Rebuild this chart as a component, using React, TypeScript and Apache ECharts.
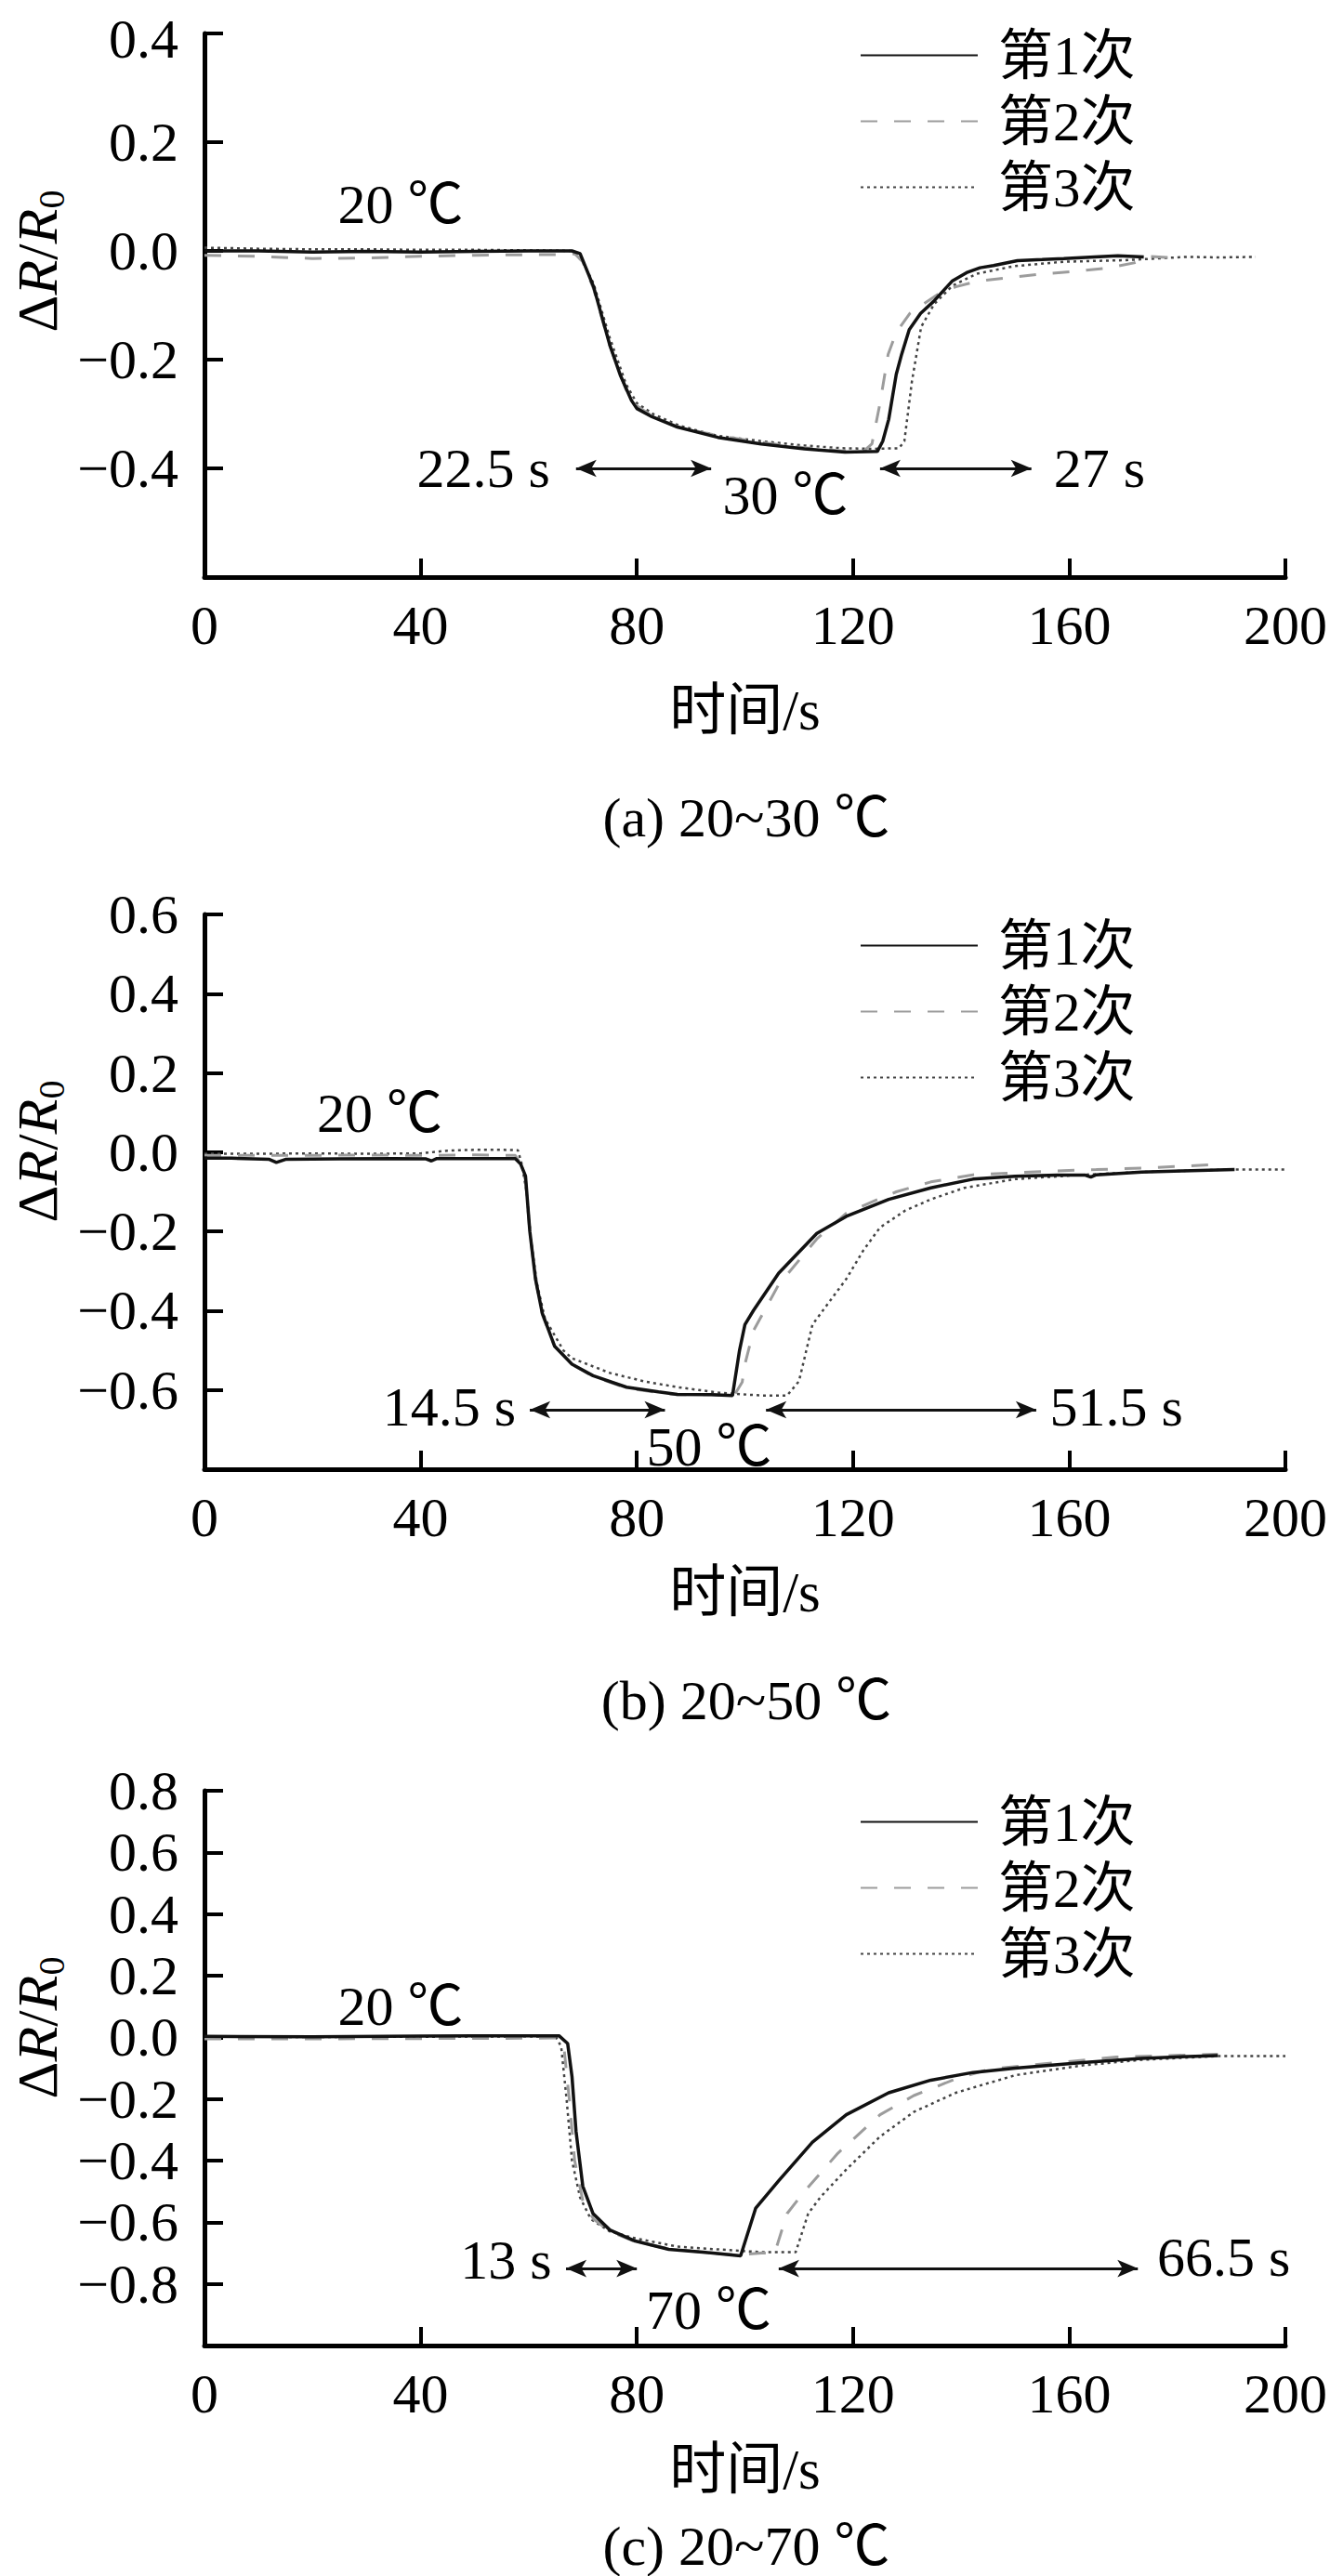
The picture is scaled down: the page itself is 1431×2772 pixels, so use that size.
import React, { useEffect, useRef } from 'react'
import * as echarts from 'echarts'

// ---- data (time in s, ΔR/R0) ----
const seriesNames = ['第1次', '第2次', '第3次']
const xTicks = { min: 0, max: 200, interval: 40 }

// (a) 20~30 ℃
const a1 = [[0, 0.0], [10, 0.0], [20, -0.002], [30, -0.001], [40, -0.002], [50, -0.001], [60, 0.0], [68, 0.0], [69.5, -0.005], [72, -0.066], [75, -0.173], [77, -0.23], [79, -0.275], [80, -0.29], [82.8, -0.305], [87.5, -0.324], [95, -0.343], [103, -0.355], [111, -0.364], [118.5, -0.37], [124.5, -0.369], [125.5, -0.35], [126.6, -0.31], [128, -0.227], [129, -0.19], [130.4, -0.145], [132.5, -0.115], [134.9, -0.093], [138.4, -0.055], [141, -0.04], [143.5, -0.031], [146, -0.027], [150.4, -0.018], [155, -0.016], [159, -0.014], [164.7, -0.011], [169, -0.009], [173.8, -0.011]]
const a2 = [[0, -0.008], [10, -0.01], [20, -0.014], [30, -0.013], [40, -0.01], [50, -0.008], [60, -0.007], [67, -0.007], [68.5, -0.005], [70, -0.02], [72, -0.07], [75, -0.175], [78, -0.255], [80, -0.285], [83, -0.305], [88, -0.325], [95, -0.34], [103, -0.352], [111, -0.362], [118, -0.368], [122, -0.368], [123.5, -0.355], [125, -0.28], [126.5, -0.19], [128, -0.15], [130.5, -0.115], [133, -0.098], [136, -0.078], [139, -0.066], [142.9, -0.056], [149.8, -0.048], [155.5, -0.042], [161.8, -0.037], [167.5, -0.031], [172, -0.022], [175, -0.01], [178, -0.012], [181, -0.01]]
const a3 = [[0, 0.006], [10, 0.004], [20, 0.003], [30, 0.003], [40, 0.002], [50, 0.002], [60, 0.001], [68, 0.0], [70, -0.02], [72, -0.06], [75, -0.16], [78, -0.245], [80, -0.28], [83, -0.3], [88, -0.322], [95, -0.34], [103, -0.35], [111, -0.358], [118, -0.363], [124, -0.364], [128.5, -0.363], [129.5, -0.35], [130.9, -0.24], [132.6, -0.14], [135, -0.098], [138.4, -0.064], [142.9, -0.042], [149.8, -0.028], [159, -0.02], [170.4, -0.017], [181.8, -0.011], [188, -0.012], [194.5, -0.011]]

// (b) 20~50 ℃
const b1 = [[0, -0.015], [5, -0.015], [12, -0.018], [13.3, -0.026], [15, -0.018], [25, -0.017], [35, -0.016], [41, -0.017], [42, -0.022], [43, -0.016], [50, -0.016], [57.5, -0.016], [58.5, -0.03], [59.4, -0.06], [60.2, -0.2], [61.25, -0.32], [62.5, -0.406], [64.8, -0.49], [68, -0.535], [71.9, -0.564], [78.1, -0.593], [84, -0.605], [87.5, -0.611], [93.75, -0.612], [97.7, -0.614], [99, -0.5], [100, -0.435], [101.6, -0.399], [106.25, -0.305], [113.3, -0.205], [118.75, -0.162], [126.6, -0.119], [134.4, -0.09], [142.2, -0.068], [150, -0.061], [157.8, -0.058], [163, -0.058], [164, -0.063], [165, -0.057], [173.4, -0.05], [181, -0.047], [190.6, -0.044]]
const b2 = [[0, -0.008], [10, -0.008], [20, -0.008], [30, -0.007], [40, -0.008], [50, -0.007], [57.5, -0.008], [58.5, -0.03], [59.4, -0.07], [60.2, -0.2], [61.25, -0.32], [62.5, -0.41], [64.8, -0.49], [68, -0.535], [71.9, -0.566], [78.1, -0.595], [84, -0.607], [87.5, -0.612], [93.75, -0.612], [98, -0.614], [99.5, -0.58], [100, -0.535], [101.6, -0.45], [106.25, -0.334], [113.3, -0.219], [118.75, -0.154], [123.4, -0.126], [128, -0.1], [134.4, -0.075], [142.2, -0.057], [150, -0.052], [157.8, -0.047], [165, -0.044], [173.4, -0.04], [180, -0.036], [186, -0.032]]
const b3 = [[0, -0.004], [10, -0.004], [20, -0.003], [30, -0.004], [40, -0.003], [45, 0.004], [50, 0.006], [55, 0.006], [58, 0.005], [58.7, -0.03], [59.6, -0.1], [60.4, -0.22], [61.5, -0.33], [63, -0.42], [66.4, -0.5], [68, -0.52], [75, -0.557], [81.25, -0.578], [87.5, -0.593], [95.3, -0.607], [103, -0.614], [107.8, -0.614], [110, -0.578], [112.5, -0.435], [116.4, -0.363], [118.75, -0.32], [121.9, -0.248], [125, -0.19], [129.7, -0.147], [134.4, -0.119], [140.6, -0.09], [150, -0.068], [162.5, -0.057], [173.4, -0.05], [189, -0.044], [200, -0.044]]

// (c) 20~70 ℃
const c1 = [[0, 0.003], [20, 0.002], [40, 0.004], [60, 0.005], [65.6, 0.005], [67.2, -0.02], [68, -0.127], [68.75, -0.305], [70, -0.483], [71.9, -0.572], [75, -0.625], [79.7, -0.661], [85.9, -0.688], [92.2, -0.697], [99.2, -0.709], [102, -0.554], [106.25, -0.465], [112.5, -0.34], [118.75, -0.251], [126.6, -0.18], [134.4, -0.139], [142.2, -0.114], [150, -0.1], [162.5, -0.082], [173.4, -0.068], [187.5, -0.059]]
const c2 = [[0, -0.005], [20, -0.005], [40, -0.004], [60, -0.003], [65, -0.002], [66.5, -0.03], [67.5, -0.2], [68.5, -0.4], [70, -0.53], [72, -0.59], [75, -0.63], [79.7, -0.663], [85.9, -0.686], [92.2, -0.697], [98.4, -0.706], [103, -0.7], [105.5, -0.7], [107.8, -0.572], [111, -0.5], [117.2, -0.376], [125, -0.251], [131.25, -0.189], [139, -0.135], [145.3, -0.103], [157.8, -0.082], [168.75, -0.064], [187.5, -0.055]]
const c3 = [[0, 0.002], [20, 0.001], [40, 0.002], [60, 0.003], [65, 0.002], [66, -0.03], [67, -0.2], [68, -0.4], [69.5, -0.52], [71.5, -0.59], [75, -0.63], [79.7, -0.652], [87.5, -0.679], [95, -0.688], [103, -0.697], [109.4, -0.697], [111.7, -0.572], [114, -0.518], [118.75, -0.429], [125, -0.322], [131.25, -0.242], [139, -0.18], [150, -0.123], [162.5, -0.091], [173.4, -0.073], [187.5, -0.061], [200, -0.061]]

// y ranges per panel
const yMins = [-0.6, -0.8, -1.0]
const yMaxs = [0.4, 0.6, 0.8]
const captions = ['(a) 20~30 ℃', '(b) 20~50 ℃', '(c) 20~70 ℃']

// annotations: [text, time, value]
const aLabels: [string, number, number][] = [['20 ℃', 36.3, 0.085], ['22.5 s', 51.6, -0.4], ['30 ℃', 107.5, -0.45], ['27 s', 165.6, -0.4]]
const bLabels: [string, number, number][] = [['20 ℃', 32.4, 0.097], ['14.5 s', 45.3, -0.643], ['50 ℃', 93.4, -0.744], ['51.5 s', 168.75, -0.643]]
const cLabels: [string, number, number][] = [['20 ℃', 36.3, 0.1], ['13 s', 55.8, -0.723], ['70 ℃', 93.3, -0.884], ['66.5 s', 188.6, -0.714]]

// double arrows: [from, to, value]
const aArrows = [[68.75, 93.75, -0.4], [125, 153, -0.4]]
const bArrows = [[60.2, 85.2, -0.65], [103.9, 153.9, -0.65]]
const cArrows = [[66.9, 80, -0.75], [106.25, 172.7, -0.75]]

const panelSeries = [[a1, a2, a3], [b1, b2, b3], [c1, c2, c3]]
const panelLabels = [aLabels, bLabels, cLabels]
const panelArrows = [aArrows, bArrows, cArrows]

// ---- layout ----
const gridTops = [26, 984, 1927]
const gridHeights = [595, 597, 597]
const gridLeft = 220
const gridWidth = 1166
const xNameGaps = [143, 132, 133]
const captionCenters = [880, 1830, 2740]
const FONT = "'Liberation Serif', 'Noto Sans CJK SC', serif"

const lineStyles = [
  { color: '#111', width: 3.5, type: 'solid' },
  { color: '#9c9c9c', width: 3, type: [18, 18] },
  { color: '#444', width: 2.5, type: [3, 4] },
]

// y labels: hide the bottom one; nudge the very top label of panel (a) off the page edge
const fmtY = (min: number, max: number, nudgeTop: boolean) => (v: number) => {
  if (Math.abs(v - min) < 1e-6) return ''
  const s = (v < -1e-9 ? '−' : '') + Math.abs(v).toFixed(1)
  if (nudgeTop && Math.abs(v - max) < 1e-6) return '{t|' + s + '}'
  return s
}

const App: React.FC = () => {
  const chartRef = useRef<HTMLDivElement>(null)

  useEffect(() => {
    document.body.style.margin = '0'
    if (!chartRef.current) return
    const chart = echarts.init(chartRef.current, undefined, { renderer: 'svg' })

    const grid = gridTops.map((top, i) => ({
      left: gridLeft,
      top,
      width: gridWidth,
      height: gridHeights[i],
      containLabel: false,
    }))

    const xAxis = gridTops.map((_, i) => ({
      type: 'value',
      gridIndex: i,
      min: xTicks.min,
      max: xTicks.max,
      interval: xTicks.interval,
      name: '时间/s',
      nameLocation: 'middle',
      nameGap: xNameGaps[i],
      nameTextStyle: { fontSize: 61, fontFamily: FONT, color: '#000', verticalAlign: 'middle' },
      axisLine: { onZero: false, lineStyle: { color: '#000', width: 5 } },
      axisTick: { inside: true, length: 20, lineStyle: { color: '#000', width: 4 } },
      axisLabel: { fontSize: 60, fontFamily: FONT, color: '#000', margin: 22 },
      splitLine: { show: false },
    }))

    const yAxis = gridTops.map((_, i) => ({
      type: 'value',
      gridIndex: i,
      min: yMins[i],
      max: yMaxs[i],
      interval: 0.2,
      axisLine: { onZero: false, lineStyle: { color: '#000', width: 5 } },
      axisTick: { inside: true, length: 20, lineStyle: { color: '#000', width: 4 } },
      axisLabel: {
        fontSize: 60,
        lineHeight: 44,
        fontFamily: FONT,
        color: '#000',
        margin: 28,
        formatter: fmtY(yMins[i], yMaxs[i], i === 0),
        rich: { t: { fontSize: 60, lineHeight: 44, fontFamily: FONT, color: '#000', padding: [12, 0, 0, 0] } },
      },
      splitLine: { show: false },
    }))

    const series: any[] = []
    panelSeries.forEach((group, i) => {
      group.forEach((data, k) => {
        series.push({
          name: seriesNames[k],
          type: 'line',
          xAxisIndex: i,
          yAxisIndex: i,
          data,
          symbol: 'none',
          showSymbol: false,
          lineStyle: lineStyles[k],
          itemStyle: { color: lineStyles[k].color },
          z: 5 - k,
          silent: true,
        })
      })
      series.push({
        type: 'scatter',
        xAxisIndex: i,
        yAxisIndex: i,
        symbolSize: 1,
        silent: true,
        itemStyle: { color: '#fff', opacity: 1 },
        data: panelLabels[i].map(([text, t, v]) => ({ name: text, value: [t, v] })),
        label: {
          show: true,
          position: 'inside',
          formatter: (p: any) => p.name,
          fontSize: 60,
          fontFamily: FONT,
          color: '#000',
          opacity: 1,
          textBorderWidth: 0,
        },
        markLine: {
          silent: true,
          symbol: ['arrow', 'arrow'],
          symbolSize: [14, 22],
          label: { show: false },
          lineStyle: { color: '#111', width: 3, type: 'solid', opacity: 1 },
          data: panelArrows[i].map(([from, to, v]) => [{ coord: [from, v] }, { coord: [to, v] }]),
        },
      })
    })

    const legend = gridTops.map((top) => ({
      data: seriesNames,
      orient: 'vertical',
      left: 925,
      top: top - 2,
      padding: 0,
      itemGap: 0,
      itemWidth: 126,
      itemHeight: 1,
      textStyle: { fontSize: 59, lineHeight: 71, fontFamily: FONT, color: '#000', padding: [0, 0, 0, 17] },
      selectedMode: false,
    }))

    const title = captions.map((text, i) => ({
      text,
      left: gridLeft + gridWidth / 2,
      top: captionCenters[i] - 25,
      textAlign: 'center',
      padding: 0,
      textStyle: { fontSize: 60, fontWeight: 'normal', fontFamily: FONT, color: '#000', lineHeight: 50 },
    }))

    const graphic = gridTops.map((top) => ({
      type: 'text',
      x: 40,
      y: top + 255,
      rotation: Math.PI / 2,
      silent: true,
      style: {
        text: '{d|Δ}{i|R}{d|/}{i|R}{s|0}',
        align: 'center',
        verticalAlign: 'middle',
        fill: '#000',
        rich: {
          d: { fontSize: 62, fontFamily: FONT, lineHeight: 70, fill: '#000' },
          i: { fontSize: 62, fontFamily: FONT, fontStyle: 'italic', lineHeight: 70, fill: '#000' },
          s: { fontSize: 40, fontFamily: FONT, lineHeight: 40, verticalAlign: 'bottom', fill: '#000' },
        },
      },
    }))

    chart.setOption({
      animation: false,
      backgroundColor: '#fff',
      grid,
      xAxis,
      yAxis,
      series,
      legend,
      title,
      graphic,
    })

    return () => {
      chart.dispose()
    }
  }, [])

  return <div ref={chartRef} style={{ width: 1431, height: 2772 }} />
}

export default App
